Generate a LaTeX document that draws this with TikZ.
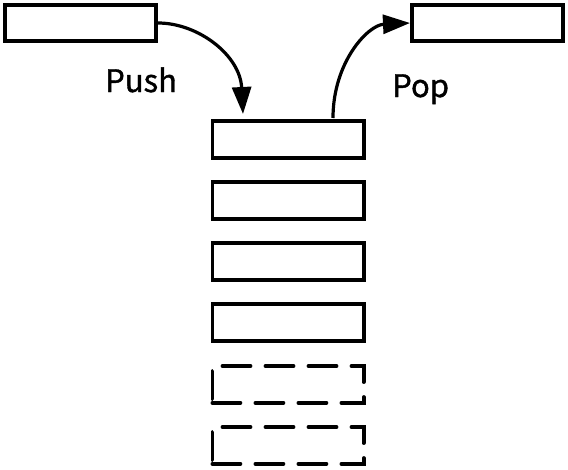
\documentclass[tikz,border=0pt]{standalone}
\usepackage{fontspec}
\setmainfont{Noto Sans CJK JP}
\newfontfamily\lblfont{Noto Sans CJK JP}[FakeBold=1.2]
\usetikzlibrary{arrows.meta,calc}
\begin{document}
\begin{tikzpicture}[x=1pt,y=-1pt,
  cell/.style={draw,line width=3.8pt,rectangle,minimum width=151.2pt,minimum height=36.7pt,inner sep=0pt,anchor=center},
  ghost/.style={cell,dash pattern=on 28pt off 15pt,line cap=round},
  flow/.style={line width=3.2pt,-{Triangle[length=27pt,width=19pt]}},
  lbl/.style={font=\lblfont\fontsize{31}{31}\selectfont,inner sep=0pt}]
\useasboundingbox (0,0) rectangle (568,469);
\node[cell] (src) at (80.5,23) {};
\node[cell] (dst) at (487.5,23) {};
\node[cell] (s1) at (288,139.5) {};
\node[cell] (s2) at (288,200.5) {};
\node[cell] (s3) at (288,261.5) {};
\node[cell] (s4) at (288,322.5) {};
\node[ghost] (s5) at (288,384.5) {};
\node[ghost] (s6) at (288,445.5) {};
\coordinate (pushend) at (243,114);
\coordinate (popstart) at (333,118);
\draw[flow] (src.east) .. controls (198,23) and (240,55) .. (pushend);
\draw[flow] (popstart) .. controls (333,62) and (368,25) .. (dst.west);
\node[lbl,anchor=base west] (push) at (105,92) {Push};
\node[lbl,anchor=base west] (pop) at (392,97) {Pop};
\end{tikzpicture}
\end{document}
